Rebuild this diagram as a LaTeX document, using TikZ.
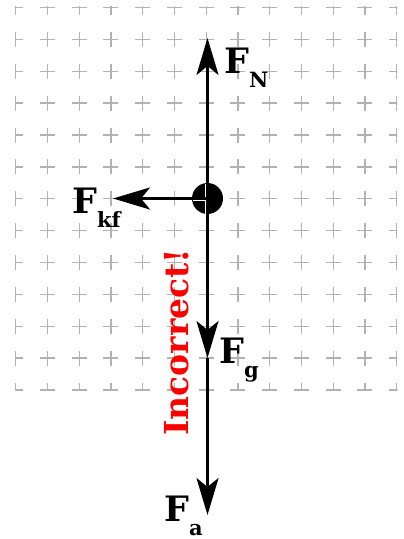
\documentclass[tikz,border=0pt]{standalone}
\usepackage{fontspec}
\setmainfont{DejaVu Serif}
\usetikzlibrary{arrows.meta}
\begin{document}
\begin{tikzpicture}[x=1pt,y=-1pt,
 gridmark/.style={draw=black!30, line width=1.3pt},
 force/.style={line width=2.8pt, -{Stealth[length=37pt,width=22pt,inset=9pt]}},
 lab/.style={inner sep=0pt, anchor=base west, font=\bfseries\fontsize{35}{35}\selectfont},
]
\useasboundingbox (0,0) rectangle (404,539);
\begin{scope}
\clip (15.05,6.85) rectangle (397.35,390.65);
\foreach \i in {0,...,12}{
 \foreach \j in {0,...,12}{
   \pgfmathsetmacro\xx{15.7+31.75*\i}
   \pgfmathsetmacro\yy{7.5+31.875*\j}
   \draw[gridmark] (\xx-7.5,\yy) -- (\xx+7.5,\yy) (\xx,\yy-7.5) -- (\xx,\yy+7.5);
 }}
\end{scope}
\node[circle, fill=black, minimum size=31pt, inner sep=0pt] (dot) at (207.5,198.5) {};
\draw[white, line width=1.1pt] (205.3,183.5) -- (205.3,213.5);
\draw[white, line width=1.1pt] (192.5,200.7) -- (206,200.7);
\coordinate (tN) at (207.5,38);
\coordinate (tkf) at (113,198.5);
\coordinate (tg) at (207.5,358);
\coordinate (ta) at (207.5,515);
\draw[force] (dot.center) -- (tN);
\draw[force] (dot.center) -- (tkf);
\draw[force] (dot.center) -- (tg);
\draw[force] (tg) -- (ta);
\newcommand\subsc[1]{\raisebox{-14pt}{\fontsize{21}{21}\selectfont #1}}
\node[lab] (lN) at (224,73) {F\subsc{N}};
\node[lab] (lkf) at (72,213) {F\subsc{kf}};
\node[lab] (lg) at (219,363) {F\subsc{g}};
\node[lab] (la) at (164,521) {F\subsc{a}};
\node[inner sep=0pt, anchor=base west, rotate=90, text=red, font=\bfseries\fontsize{33}{33}\selectfont] (inc) at (188,436) {Incorrect!};
\end{tikzpicture}
\end{document}
